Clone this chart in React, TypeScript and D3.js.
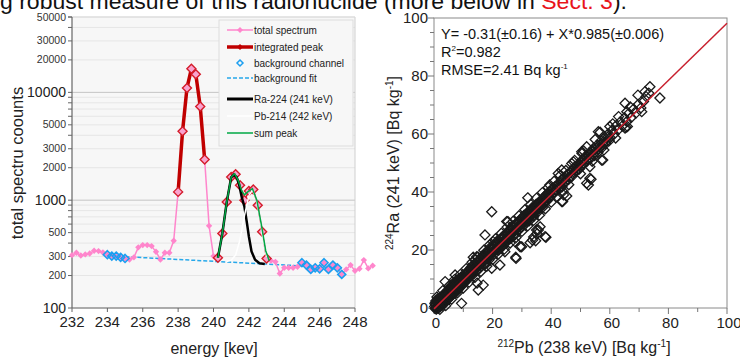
import React from "react";
import * as d3 from "d3";

// ---------- LEFT CHART DATA ----------
const spectrumEnergy: number[] = [
  232.0, 232.25, 232.5, 232.75, 233.0, 233.25, 233.5, 233.75, 234.0, 234.25, 234.5, 234.75,
  235.0, 235.25, 235.5, 235.75, 236.0, 236.25, 236.5, 236.75, 237.0, 237.25, 237.5, 237.75,
  238.0, 238.25, 238.5, 238.75, 239.0, 239.25, 239.5, 239.75, 240.0, 240.25, 240.5, 240.75,
  241.0, 241.25, 241.5, 241.75, 242.0, 242.25, 242.5, 242.75, 243.0, 243.25, 243.5, 243.75,
  244.0, 244.25, 244.5, 244.75, 245.0, 245.25, 245.5, 245.75, 246.0, 246.25, 246.5, 246.75,
  247.0, 247.25, 247.5, 247.75, 248.0, 248.25, 248.5, 248.75, 249.0,
];
const spectrumCounts: number[] = [
  309, 325, 307, 314, 320, 340, 337, 327, 312, 303, 303, 295,
  288, 282, 295, 365, 383, 383, 375, 332, 282, 325, 325, 420,
  1194, 4355, 10960, 16560, 14690, 7410, 2380, 578, 303, 292, 491, 964,
  1643, 1741, 1377, 1000, 1219, 1256, 899, 509, 288, 275, 268, 209,
  236, 236, 236, 241, 263, 250, 228, 236, 231, 263, 228, 250,
  236, 205, 228, 250, 221, 231, 278, 233, 247,
];
const integratedPeak1 = [238.0, 239.5];
const integratedPeak2 = [240.25, 243.0];
const bgRanges = [[234.0, 235.0], [245.0, 247.25]];
const bgFitEnergy = [234.0, 247.25];
const bgFitCounts = [305, 235];

const raEnergy = [240.25, 240.5, 240.75, 241.0, 241.15, 241.3, 241.45, 241.6, 241.75, 241.9, 242.0, 242.15, 242.35, 242.6, 242.9];
const raCounts = [292, 491, 964, 1630, 1720, 1640, 1400, 1060, 870, 600, 460, 335, 280, 260, 256];
const pbEnergy = [240.75, 241.0, 241.25, 241.5, 241.75, 242.0, 242.2, 242.4, 242.6, 242.8, 243.0];
const pbCounts = [270, 278, 310, 430, 720, 1100, 1240, 1050, 720, 430, 300];
const sumEnergy = [240.25, 240.5, 240.75, 241.0, 241.2, 241.4, 241.6, 241.75, 241.95, 242.2, 242.45, 242.7, 242.95, 243.15];
const sumCounts = [292, 491, 964, 1640, 1760, 1520, 1220, 1120, 1200, 1280, 1000, 600, 340, 275];

const xTicksL = [232, 234, 236, 238, 240, 242, 244, 246, 248];
const yMajorL = [100, 1000, 10000];
const yMinorLabelsL = [200, 300, 500, 2000, 3000, 5000, 20000, 30000, 50000];

const legendLabels = [
  "total spectrum",
  "integrated peak",
  "background channel",
  "background fit",
  "Ra-224 (241 keV)",
  "Pb-214 (242 keV)",
  "sum peak",
];

// ---------- RIGHT CHART DATA ----------
const scatterPoints: [number, number][] = [
  [0.2,0.5],[0.4,-0.2],[0.5,1.2],[0.7,0.3],[0.9,1.8],[1.0,0.6],[1.1,2.5],[1.3,0.9],[1.4,-0.1],[1.6,1.7],[1.8,2.9],[1.9,1.1],[2.1,0.4],[2.2,2.3],[2.4,3.4],[2.5,1.6],[2.7,2.8],[2.9,1.9],[3.0,4.1],[3.2,2.6],[3.3,3.5],[3.5,1.8],[3.6,4.4],[3.8,3.1],[4.0,2.4],[4.1,5.0],[4.3,3.9],[4.5,4.6],[4.6,3.0],[4.8,5.6],[5.0,4.2],
  [5.1,6.0],[5.3,4.8],[5.5,5.4],[5.6,7.1],[5.8,4.3],[6.0,6.3],[6.1,5.2],[6.3,7.6],[6.5,6.0],[6.6,4.9],[6.8,7.9],[7.0,6.6],[7.1,8.4],[7.3,5.8],[7.5,7.4],[7.7,9.6],[7.9,6.9],[8.0,8.1],[8.2,7.0],[8.4,9.2],[8.6,8.6],[8.7,6.9],[8.9,10.1],[9.1,8.0],[9.3,9.6],[9.5,8.3],[9.7,10.8],[9.9,9.4],
  [10.2,10.9],[10.4,8.8],[10.6,10.3],[10.9,11.9],[11.1,10.2],[11.3,11.6],[11.6,9.9],[11.8,12.6],[12.0,11.4],[12.3,13.3],[12.5,11.5],[12.8,12.9],[13.0,14.4],[13.2,11.9],[13.5,13.6],[13.7,15.2],[14.0,13.1],[14.2,14.8],[14.5,12.8],[14.7,15.6],[15.0,14.3],[15.2,16.4],[15.5,14.9],[15.7,13.8],[16.0,16.9],[16.2,15.4],[16.5,17.3],[16.8,15.9],[17.0,18.2],[17.3,16.5],[17.5,15.3],[17.8,18.6],[18.0,17.1],[18.3,19.4],[18.6,17.8],[18.8,16.6],[19.1,19.7],[19.4,18.5],[19.6,20.4],[19.9,19.2],
  [20.2,21.5],[20.4,19.6],[20.7,18.7],[21.0,21.9],[21.2,20.5],[21.5,22.6],[21.8,21.0],[22.1,20.0],[22.3,23.1],[22.6,21.8],[22.9,23.9],[23.2,22.4],[23.4,21.3],[23.7,24.5],[24.0,23.2],[24.3,25.4],[24.5,23.6],[24.8,22.8],[25.1,26.0],[25.4,24.6],[25.6,26.8],[25.9,25.1],[26.2,24.0],[26.5,27.2],[26.7,25.9],[27.0,28.3],[27.3,26.4],[27.6,25.2],[27.9,28.7],[28.1,27.4],[28.4,29.5],[28.7,27.8],[29.0,26.9],[29.3,30.1],[29.6,28.7],[29.9,30.9],
  [30.2,29.4],[30.5,31.5],[30.8,29.6],[31.0,28.8],[31.3,32.2],[31.6,30.7],[31.9,33.0],[32.2,31.2],[32.5,30.1],[32.8,33.6],[33.1,32.0],[33.4,34.5],[33.7,32.7],[34.0,31.5],[34.3,35.0],[34.6,33.6],[34.9,35.8],[35.2,34.1],[35.5,33.2],[35.8,36.3],[36.1,35.2],[36.4,37.1],[36.7,35.7],[37.0,34.6],[37.3,37.9],[37.6,36.5],[37.9,38.6],[38.2,37.1],[38.6,39.4],[39.0,37.9],[39.4,40.1],[39.8,38.7],
  [40.3,40.9],[40.8,39.6],[41.3,41.8],[41.8,40.4],[42.4,42.9],[42.9,41.6],[43.5,44.2],[43.9,42.7],[44.4,45.1],[45.0,43.8],[45.6,46.0],[46.2,45.0],[46.8,47.3],[47.4,46.3],[48.0,48.6],[48.7,47.5],[49.3,49.8],[49.9,48.7],
  [50.6,51.1],[51.2,49.9],[51.8,52.4],[52.5,51.3],[53.1,53.6],[53.8,52.5],[54.4,55.0],[55.0,53.7],[55.7,56.2],[56.3,54.9],[57.0,57.6],[57.6,56.3],[58.2,58.9],[58.9,57.5],[59.5,60.1],[60.1,58.8],
  [60.8,61.3],[61.5,60.0],[62.2,62.9],[62.9,61.5],[63.6,64.2],[64.3,62.8],[65.0,65.6],[65.8,64.3],[66.5,67.1],[67.3,65.7],[68.1,68.6],[68.9,67.2],[69.7,70.2],[70.6,69.0],[71.5,71.2],[72.4,72.9],[73.3,74.1],
  [0.3,1.6],[0.6,2.4],[0.8,-0.4],[1.2,3.1],[1.5,0.2],[1.7,2.0],[2.0,3.6],[2.3,1.2],[2.6,4.0],[2.8,0.9],[3.1,3.0],[3.4,2.2],[3.7,5.2],[3.9,1.9],[4.2,4.4],[4.4,2.7],[4.7,6.1],[4.9,3.5],[5.2,5.1],[5.4,3.6],[5.7,6.6],[5.9,5.5],[6.2,4.4],[6.4,7.0],[6.7,5.7],[6.9,8.8],[7.2,7.0],[7.4,5.3],[7.6,8.3],[7.8,7.6],[8.1,9.7],[8.3,6.4],[8.5,8.0],[8.8,9.5],[9.0,7.4],[9.2,10.6],[9.4,9.1],[9.6,7.8],[9.8,10.1],
  [10.1,9.6],[10.5,11.6],[10.8,9.4],[11.2,12.4],[11.5,11.0],[11.9,10.5],[12.2,12.1],[12.6,14.0],[12.9,12.2],[13.3,13.0],[13.6,11.8],[13.9,14.6],[14.3,13.7],[14.6,14.2],[14.9,16.1],[15.3,15.0],[15.6,16.0],[15.9,14.5],[16.3,17.8],[16.6,16.4],[16.9,15.1],[17.2,17.5],[17.6,16.9],[17.9,19.5],[18.2,18.0],[18.5,16.9],[18.9,19.0],[19.2,18.1],[19.5,21.2],[19.8,18.6],
  [20.1,20.3],[20.5,21.0],[20.9,19.8],[21.3,22.9],[21.6,20.2],[21.9,22.2],[22.2,21.5],[22.5,22.5],[22.8,20.9],[23.1,24.3],[23.5,23.0],[23.8,22.2],[24.1,24.6],[24.4,22.6],[24.7,25.9],[25.0,24.0],[25.3,25.6],[25.7,24.2],[26.0,26.5],[26.3,25.4],[26.6,26.1],[26.9,24.9],[27.2,27.6],[27.5,26.8],[27.8,27.0],[28.2,28.6],[28.5,26.8],[28.8,29.9],[29.1,28.3],[29.4,29.0],[29.8,27.9],
  [30.1,30.6],[30.4,30.0],[30.7,31.9],[31.1,30.1],[31.4,31.2],[31.7,29.9],[32.0,32.6],[32.3,32.4],[32.7,31.3],[33.0,33.9],[33.3,32.4],[33.6,33.8],[33.9,31.9],[34.2,34.4],[34.5,32.9],[34.8,34.9],[35.1,35.6],[35.4,34.3],[35.7,35.9],[36.0,34.3],[36.3,36.4],[36.6,36.9],[36.9,35.3],[37.2,37.4],[37.5,35.8],[37.8,37.6],[38.1,38.9],[38.4,36.8],[38.8,38.4],[39.2,39.5],[39.6,38.0],[40.0,40.6],
  [40.6,41.4],[41.0,39.9],[41.5,40.8],[42.0,42.0],[42.6,41.2],[43.2,43.5],[43.7,41.8],[44.1,44.6],[44.7,43.3],[45.3,45.5],[45.9,44.3],[46.5,46.6],[47.1,45.4],[47.7,47.8],[48.4,47.0],[49.0,49.0],[49.6,47.9],[50.2,50.1],[50.9,49.4],[51.5,51.5],[52.2,50.6],[52.8,52.7],[53.5,51.6],[54.1,53.9],[54.7,52.6],[55.4,55.1],[56.0,53.8],[56.7,56.2],[57.3,55.2],[57.9,57.4],[58.6,56.6],[59.2,58.9],[59.8,57.7],
  [1.0,3.8],[2.0,-0.5],[3.0,6.0],[4.0,0.8],[5.0,7.5],[6.0,3.0],[7.0,9.8],[8.0,5.2],[9.0,11.6],[10.0,6.9],[11.0,13.6],[12.0,8.9],[13.0,15.8],[14.0,10.6],[15.0,17.6],[16.0,12.6],[17.0,19.9],[18.0,14.4],[19.0,21.8],[20.0,16.7],
  [21.0,23.9],[22.0,18.6],[23.0,25.8],[24.0,20.3],[25.0,27.9],[26.0,22.4],[27.0,29.9],[28.0,24.3],[29.0,31.8],[30.0,26.4],[31.0,33.9],[32.0,28.3],[33.0,35.8],[34.0,30.2],[35.0,37.9],[36.0,32.0],[37.0,39.8],[38.0,34.2],[39.0,41.6],[40.0,36.5],
  [41.0,43.7],[42.0,38.4],[43.0,45.6],[44.0,40.2],[45.0,47.4],[46.0,42.5],[48.0,50.9],[50.0,46.3],[51.0,54.2],[54.0,50.6],[55.0,58.1],[58.0,54.5],[60.0,62.6],[62.0,58.6],[63.0,66.0],[66.0,62.6],[67.0,69.3],[61.0,63.5],[47.0,49.8],[39.5,42.4],
];
const scatterOutliers: [number, number][] = [
  [19.7,33.2],[17.4,25.2],[28.0,17.1],[32.0,38.0],[25.2,29.8],[38.2,24.4],[32.8,22.5],[22.5,14.8],[16.8,7.9],[15.1,6.2],[9.4,1.6],
  [43.9,36.7],[45.3,38.6],[14.7,8.6],[19.7,13.7],[14.6,17.7],[14.0,16.5],[3.8,9.1],[7.2,11.4],[20.2,22.9],[35.0,26.9],[36.2,28.0],
  [34.0,24.5],[35.2,25.6],[33.6,23.4],[29.4,21.1],[27.6,22.9],[24.2,19.4],[34.7,23.2],[37.9,24.6],[35.6,26.9],
  [77.1,72.4],[73.7,76.3],[72.0,74.6],[69.6,73.4],[65.2,70.6],[65.8,67.7],[70.9,67.7],[65.2,62.0],[56.1,60.8],[52.1,55.6],[50.4,53.9],
  [57.2,51.0],[53.2,48.7],[53.2,44.7],[52.1,43.0],[47.6,50.4],[43.6,47.6],[42.4,46.4],[44.2,39.0],[43.6,36.7],[52.7,42.4],[53.6,44.4],
  [56.7,60.6],[50.5,53.3],[57.6,51.0],[65.5,62.3],[27.9,17.5],[15.1,16.0],[13.4,17.5],[24.8,29.8],[29.9,21.1],
];
const fitIntercept = -0.31;
const fitSlope = 0.985;
const xTicksR = [0, 20, 40, 60, 80, 100];
const yTicksR = [0, 20, 40, 60, 80, 100];

const FONT = "'Liberation Sans', Arial, Helvetica, sans-serif";

function diamondPath(cx: number, cy: number, r: number) {
  return `M${cx},${cy - r}L${cx + r},${cy}L${cx},${cy + r}L${cx - r},${cy}Z`;
}

export default function App() {
  const xL = d3.scaleLinear().domain([232, 248]).range([72, 355]);
  const yL = d3.scaleLog().domain([100, 50000]).range([308, 17]);
  const xR = d3.scaleLinear().domain([0, 100]).range([434, 727]);
  const yR = d3.scaleLinear().domain([0, 100]).range([308, 18]);

  const spec = spectrumEnergy.map((e, i) => ({ e, c: spectrumCounts[i] }));
  const lineL = d3
    .line<{ e: number; c: number }>()
    .x((d) => xL(d.e))
    .y((d) => yL(d.c));
  const peak1 = spec.filter((d) => d.e >= integratedPeak1[0] && d.e <= integratedPeak1[1]);
  const peak2 = spec.filter((d) => d.e >= integratedPeak2[0] && d.e <= integratedPeak2[1]);
  const bgPts = spec.filter((d) => bgRanges.some((r) => d.e >= r[0] && d.e <= r[1]));
  const ra = raEnergy.map((e, i) => ({ e, c: raCounts[i] }));
  const pb = pbEnergy.map((e, i) => ({ e, c: pbCounts[i] }));
  const sm = sumEnergy.map((e, i) => ({ e, c: sumCounts[i] }));
  const bgFit = bgFitEnergy.map((e, i) => ({ e, c: bgFitCounts[i] }));

  const gridVals: number[] = [];
  for (let dec = 100; dec < 50000; dec *= 10) {
    for (let m = 1; m <= 9; m++) {
      const v = dec * m;
      if (v <= 50000) gridVals.push(v);
    }
  }
  gridVals.push(50000);

  const pink = "#ff86cc";
  const red = "#c00000";
  const blue = "#1c9ff0";

  const legendX = 219;
  const legendYs = [30, 47, 63, 78, 99, 116, 133];

  return (
    <svg
      width={740}
      height={359}
      style={{ position: "absolute", left: 0, top: 0, background: "#fff" }}
      fontFamily={FONT}
    >
      <text x={0} y={9} fontSize={22} fill="#111" textLength={627} lengthAdjust="spacingAndGlyphs">
        g robust measure of this radionuclide (more below in <tspan fill="#e8141b">Sect. 3</tspan>).
      </text>

      {/* ================= LEFT CHART ================= */}
      <rect x={72} y={17} width={283} height={291} fill="#f7f7f7" />
      {gridVals.map((v) => (
        <line
          key={"g" + v}
          x1={72}
          x2={355}
          y1={yL(v)}
          y2={yL(v)}
          stroke={v === 1000 || v === 10000 ? "#c4c4c4" : "#e6e6e6"}
          strokeWidth={1}
        />
      ))}
      <line x1={355} x2={355} y1={17} y2={308} stroke="#cfcfcf" />
      <line x1={72} x2={355} y1={17} y2={17} stroke="#dcdcdc" />
      <line x1={72} x2={72} y1={17} y2={308} stroke="#666" strokeWidth={1.2} />
      <line x1={72} x2={355} y1={308} y2={308} stroke="#666" strokeWidth={1.2} />
      {gridVals.map((v) => (
        <line key={"t" + v} x1={68} x2={72} y1={yL(v)} y2={yL(v)} stroke="#666" />
      ))}
      {yMajorL.map((v) => (
        <text key={"ym" + v} x={66} y={yL(v) + 5} fontSize={14} textAnchor="end" fill="#222">
          {v}
        </text>
      ))}
      {yMinorLabelsL.map((v) => (
        <text key={"yl" + v} x={66} y={yL(v) + 3.5} fontSize={10.5} textAnchor="end" fill="#333">
          {v}
        </text>
      ))}
      {xTicksL.map((v) => (
        <g key={"xt" + v}>
          <line x1={xL(v)} x2={xL(v)} y1={308} y2={312} stroke="#666" />
          <text x={xL(v)} y={327} fontSize={15} textAnchor="middle" fill="#222">
            {v}
          </text>
        </g>
      ))}
      <text x={214} y={354} fontSize={16} textAnchor="middle" fill="#222">
        energy [kev]
      </text>
      <text transform={`translate(23,163) rotate(-90)`} fontSize={16.5} textAnchor="middle" fill="#222">
        total spectru coounts
      </text>

      <path d={lineL(bgFit) || ""} fill="none" stroke="#27a8ea" strokeWidth={1.5} strokeDasharray="4,2" />
      <path d={lineL(spec) || ""} fill="none" stroke={pink} strokeWidth={1.5} />
      {spec.map((d, i) => (
        <path key={"sp" + i} d={diamondPath(xL(d.e), yL(d.c), 3.2)} fill={pink} />
      ))}
      <path d={lineL(peak1) || ""} fill="none" stroke={red} strokeWidth={3.5} />
      <path d={lineL(peak2) || ""} fill="none" stroke="#d0202a" strokeWidth={1.3} />
      {[...peak1, ...peak2].map((d, i) => (
        <path
          key={"pk" + i}
          d={diamondPath(xL(d.e), yL(d.c), 4.5)}
          fill="#f9a3cf"
          stroke="#d41c2a"
          strokeWidth={1.4}
        />
      ))}
      <path d={lineL(ra) || ""} fill="none" stroke="#000" strokeWidth={2.5} />
      <path d={lineL(pb) || ""} fill="none" stroke="#fff" strokeWidth={1.5} />
      <path d={lineL(sm) || ""} fill="none" stroke="#00a844" strokeWidth={1.5} />
      {bgPts.map((d, i) => (
        <path key={"bg" + i} d={diamondPath(xL(d.e), yL(d.c), 4)} fill="none" stroke={blue} strokeWidth={1.6} />
      ))}

      {/* legend */}
      <rect x={legendX} y={20} width={134} height={126} fill="#f7f7f7" stroke="#dddddd" />
      <line x1={227} x2={253} y1={legendYs[0]} y2={legendYs[0]} stroke={pink} strokeWidth={1.5} />
      <path d={diamondPath(240, legendYs[0], 3)} fill={pink} />
      <line x1={227} x2={253} y1={legendYs[1]} y2={legendYs[1]} stroke={red} strokeWidth={3.5} />
      <path d={diamondPath(240, legendYs[1], 3)} fill={red} />
      <path d={diamondPath(240, legendYs[2], 3)} fill="none" stroke={blue} strokeWidth={1.5} />
      <line x1={227} x2={253} y1={legendYs[3]} y2={legendYs[3]} stroke="#27a8ea" strokeWidth={1.5} strokeDasharray="4,2" />
      <line x1={227} x2={253} y1={legendYs[4]} y2={legendYs[4]} stroke="#000" strokeWidth={3} />
      <line x1={227} x2={253} y1={legendYs[5]} y2={legendYs[5]} stroke="#fff" strokeWidth={1.5} />
      <line x1={227} x2={253} y1={legendYs[6]} y2={legendYs[6]} stroke="#00a844" strokeWidth={1.5} />
      {legendLabels.map((l, i) => (
        <text key={"lg" + i} x={254} y={legendYs[i] + 3.5} fontSize={10} fill="#222">
          {l}
        </text>
      ))}

      {/* ================= RIGHT CHART ================= */}
      <rect x={434} y={18} width={293} height={290} fill="#fff" stroke="#8a8a8a" strokeWidth={1} />
      {d3.range(0, 101, 5).map((v) => (
        <line key={"ry" + v} x1={v % 20 === 0 ? 428 : 430} x2={434} y1={yR(v)} y2={yR(v)} stroke="#777" />
      ))}
      {d3.range(0, 101, 10).map((v) => (
        <line key={"rx" + v} x1={xR(v)} x2={xR(v)} y1={308} y2={v % 20 === 0 ? 314 : 312} stroke="#777" />
      ))}
      {yTicksR.map((v) => (
        <text key={"ryl" + v} x={428} y={yR(v) + 5} fontSize={15} textAnchor="end" fill="#222">
          {v}
        </text>
      ))}
      {xTicksR.map((v) => (
        <text key={"rxl" + v} x={xR(v) + 2} y={328} fontSize={15} textAnchor="middle" fill="#222">
          {v}
        </text>
      ))}
      <text x={584} y={353} fontSize={16} textAnchor="middle" fill="#222">
        <tspan fontSize={10} dy={-6}>212</tspan>
        <tspan dy={6}>Pb (238 keV) [Bq kg</tspan>
        <tspan fontSize={10} dy={-6}>-1</tspan>
        <tspan dy={6}>]</tspan>
      </text>
      <text transform={`translate(399,163) rotate(-90)`} fontSize={16} textAnchor="middle" fill="#222">
        <tspan fontSize={10} dy={-6}>224</tspan>
        <tspan dy={6}>Ra (241 keV) [Bq kg</tspan>
        <tspan fontSize={10} dy={-6}>-1</tspan>
        <tspan dy={6}>]</tspan>
      </text>

      <g>
        {[...scatterPoints, ...scatterOutliers].map((p, i) => (
          <path
            key={"sc" + i}
            d={diamondPath(xR(p[0]), yR(p[1]), 5)}
            fill="none"
            stroke="#1a1a1a"
            strokeWidth={1.3}
          />
        ))}
      </g>
      <line
        x1={xR(0)}
        y1={yR(fitIntercept)}
        x2={xR(100)}
        y2={yR(fitIntercept + fitSlope * 100)}
        stroke="#c8202e"
        strokeWidth={1.5}
      />
      <text x={441} y={39} fontSize={14.5} fill="#111">
        Y= -0.31(±0.16) + X*0.985(±0.006)
      </text>
      <text x={441} y={57} fontSize={14.5} fill="#111">
        R<tspan fontSize={8} dy={-6}>2</tspan>
        <tspan dy={6}>=0.982</tspan>
      </text>
      <text x={441} y={75} fontSize={14.5} fill="#111">
        RMSE=2.41 Bq kg<tspan fontSize={8} dy={-6}>-1</tspan>
      </text>
    </svg>
  );
}
